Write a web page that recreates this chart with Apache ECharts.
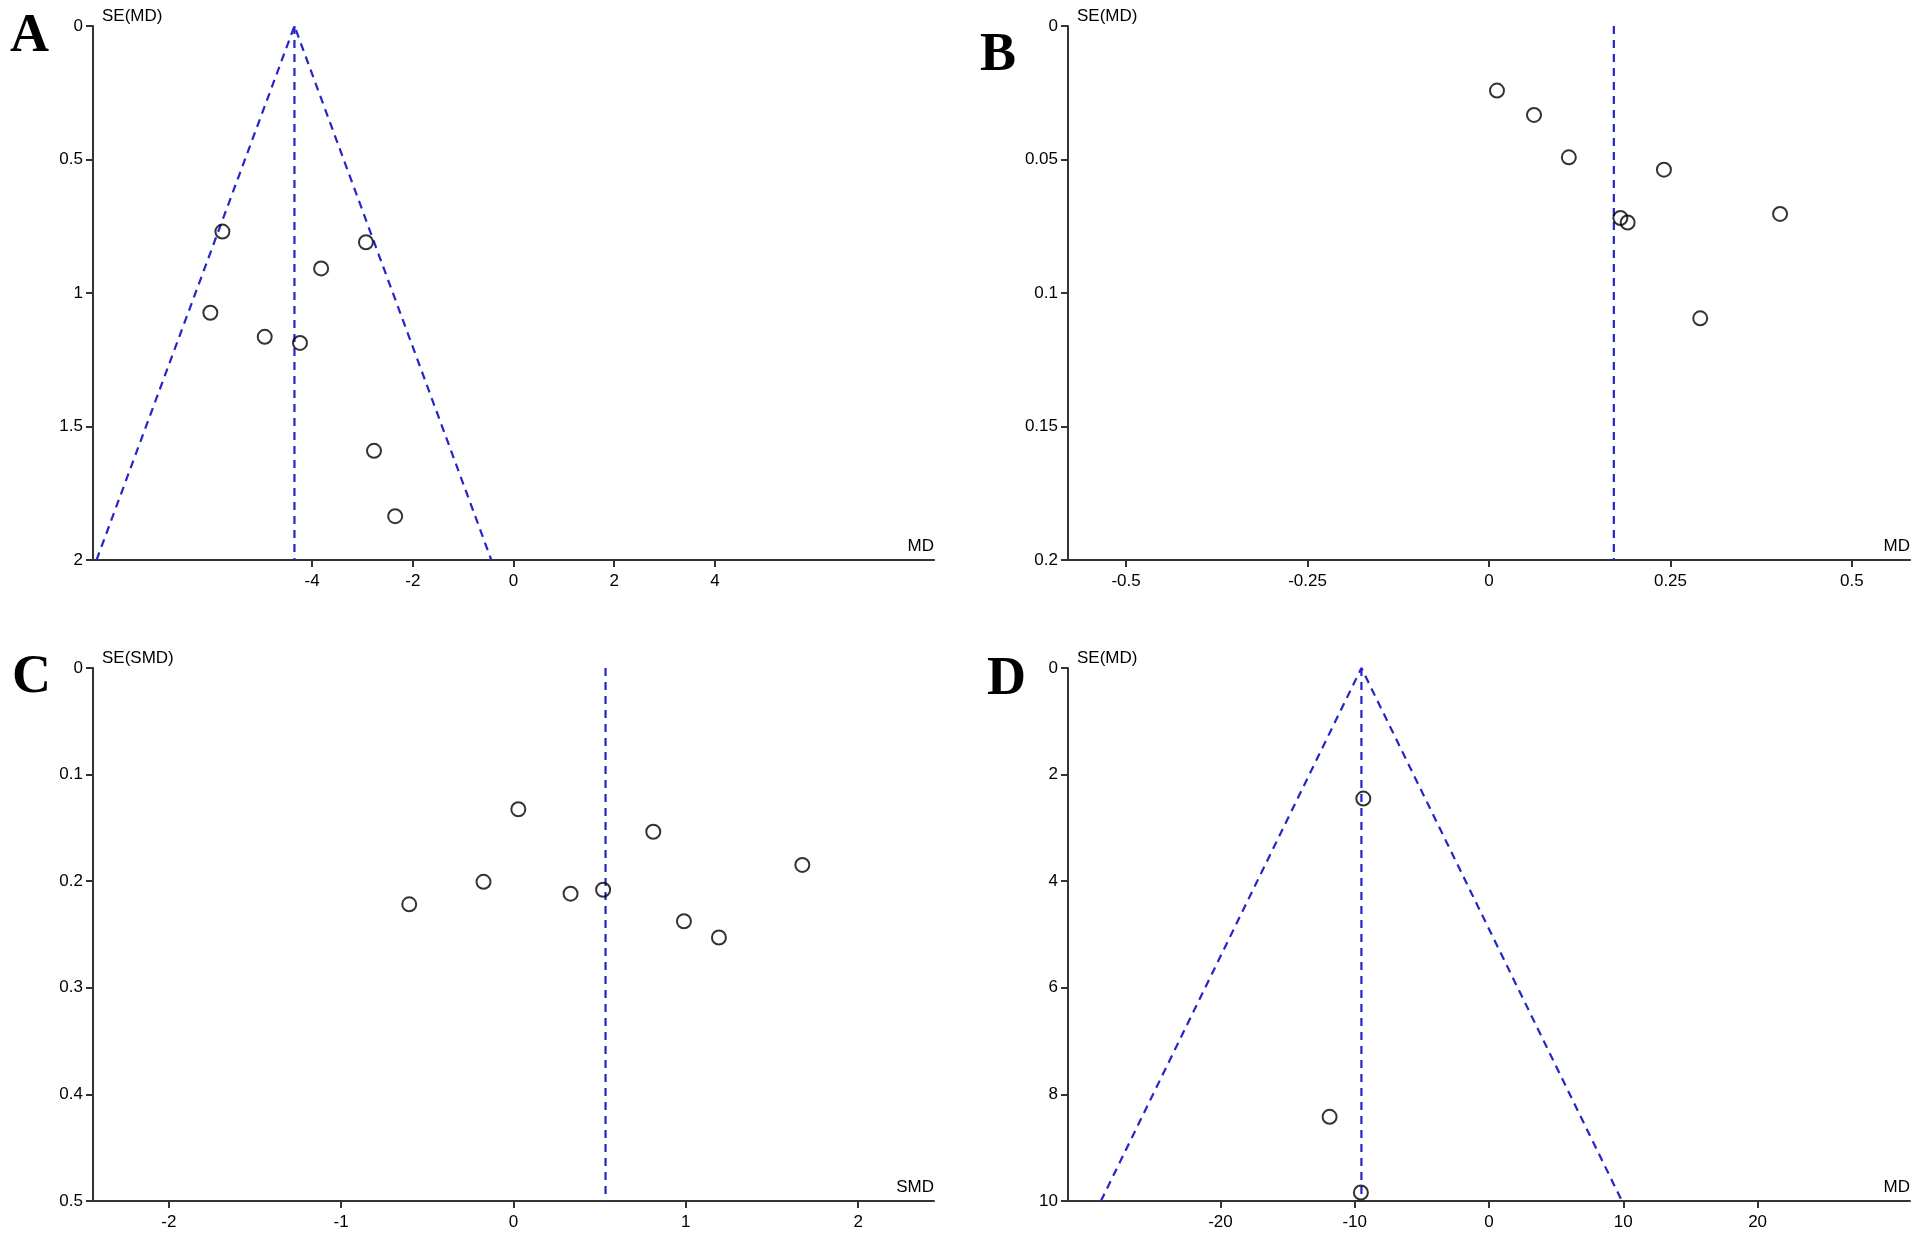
<!DOCTYPE html>
<html>
<head>
<meta charset="utf-8">
<script src="https://cdn.jsdelivr.net/npm/echarts@6/dist/echarts.min.js"></script>
<style>
  html, body { margin: 0; padding: 0; background: #fff; }
  #chart { width: 1918px; height: 1238px; }
</style>
</head>
<body>
<div id="chart"></div>
<script>
// Panel A: MD vs SE(MD)
var aMD = [-5.78, -2.93, -3.82, -6.02, -4.94, -4.24, -2.77, -2.35];
var aSE = [0.770, 0.810, 0.908, 1.074, 1.164, 1.187, 1.591, 1.836];
var aFunnelX = [-8.28, -4.35, -0.44];
var aFunnelY = [2, 0, 2];
var aPooled = -4.35;
var aTicks = [-4, -2, 0, 2, 4];

// Panel B
var bMD = [0.011, 0.062, 0.110, 0.241, 0.181, 0.191, 0.401, 0.291];
var bSE = [0.0242, 0.0333, 0.0492, 0.0538, 0.0719, 0.0736, 0.0704, 0.1095];
var bPooled = 0.172;
var bTicks = [-0.5, -0.25, 0, 0.25, 0.5];

// Panel C: SMD vs SE(SMD)
var cSMD = [-0.605, -0.174, 0.028, 0.331, 0.520, 0.811, 0.989, 1.192, 1.676];
var cSE = [0.2217, 0.2006, 0.1325, 0.2117, 0.2080, 0.1536, 0.2376, 0.2528, 0.1847];
var cPooled = 0.534;
var cTicks = [-2, -1, 0, 1, 2];

// Panel D
var dMD = [-9.36, -11.87, -9.54];
var dSE = [2.45, 8.42, 9.84];
var dFunnelX = [-28.9, -9.5, 9.9];
var dFunnelY = [10, 0, 10];
var dPooled = -9.5;
var dTicks = [-20, -10, 0, 10, 20];

var FONT = 'Liberation Sans, Arial, sans-serif';
var AXIS_COLOR = '#333';
var BLUE = '#2424c8';

function pairs(xs, ys) {
    return xs.map(function (x, i) { return [x, ys[i]]; });
}

function makeX(idx, min, max, ticks, name) {
    return {
        type: 'value', gridIndex: idx, min: min, max: max,
        name: name, nameLocation: 'end', nameGap: 0,
        nameTextStyle: { color: '#000', fontSize: 17, fontFamily: FONT, align: 'right', verticalAlign: 'bottom', padding: [0, 0, 5, 0] },
        axisLine: { show: true, onZero: false, lineStyle: { color: AXIS_COLOR, width: 2 } },
        axisTick: { show: true, length: 7, lineStyle: { color: AXIS_COLOR, width: 2 }, customValues: ticks },
        axisLabel: { color: '#000', fontSize: 17, fontFamily: FONT, margin: 13, customValues: ticks },
        splitLine: { show: false }
    };
}

function makeY(idx, max, interval, name) {
    return {
        type: 'value', gridIndex: idx, min: 0, max: max, interval: interval, inverse: true,
        name: name, nameLocation: 'start', nameGap: 1,
        nameTextStyle: { color: '#000', fontSize: 17, fontFamily: FONT, align: 'left', verticalAlign: 'bottom', padding: [0, 0, 0, 9] },
        axisLine: { show: true, onZero: false, lineStyle: { color: AXIS_COLOR, width: 2 } },
        axisTick: { show: true, length: 7, lineStyle: { color: AXIS_COLOR, width: 2 } },
        axisLabel: { color: '#000', fontSize: 17, fontFamily: FONT, margin: 10 },
        splitLine: { show: false }
    };
}

function scatter(idx, xs, ys) {
    return {
        type: 'scatter', xAxisIndex: idx, yAxisIndex: idx,
        symbol: 'circle', symbolSize: 14,
        itemStyle: { color: 'rgba(0,0,0,0)', borderColor: '#000', borderWidth: 2 },
        data: pairs(xs, ys), z: 3
    };
}

function dashed(idx, data) {
    return {
        type: 'line', xAxisIndex: idx, yAxisIndex: idx, symbol: 'none',
        lineStyle: { color: BLUE, width: 2.2, type: [8, 6] },
        data: data, z: 2
    };
}

var chart = echarts.init(document.getElementById('chart'));

var option = {
    animation: false,
    backgroundColor: '#fff',
    grid: [
        { left: 93, top: 26, width: 841, height: 534 },
        { left: 1068, top: 26, width: 842, height: 534 },
        { left: 93, top: 668, width: 841, height: 533 },
        { left: 1068, top: 668, width: 842, height: 533 }
    ],
    xAxis: [
        makeX(0, -8.35, 8.35, aTicks, 'MD'),
        makeX(1, -0.58, 0.58, bTicks, 'MD'),
        makeX(2, -2.44, 2.44, cTicks, 'SMD'),
        makeX(3, -31.35, 31.35, dTicks, 'MD')
    ],
    yAxis: [
        makeY(0, 2, 0.5, 'SE(MD)'),
        makeY(1, 0.2, 0.05, 'SE(MD)'),
        makeY(2, 0.5, 0.1, 'SE(SMD)'),
        makeY(3, 10, 2, 'SE(MD)')
    ],
    series: [
        dashed(0, pairs(aFunnelX, aFunnelY)),
        dashed(0, [[aPooled, 0], [aPooled, 2]]),
        scatter(0, aMD, aSE),
        dashed(1, [[bPooled, 0], [bPooled, 0.2]]),
        scatter(1, bMD, bSE),
        dashed(2, [[cPooled, 0], [cPooled, 0.5]]),
        scatter(2, cSMD, cSE),
        dashed(3, pairs(dFunnelX, dFunnelY)),
        dashed(3, [[dPooled, 0], [dPooled, 10]]),
        scatter(3, dMD, dSE)
    ],
    graphic: [
        { type: 'text', left: 10, top: 10, style: { text: 'A', font: 'bold 54px "Liberation Serif", serif', fill: '#000' } },
        { type: 'text', left: 980, top: 29, style: { text: 'B', font: 'bold 54px "Liberation Serif", serif', fill: '#000' } },
        { type: 'text', left: 12, top: 651, style: { text: 'C', font: 'bold 54px "Liberation Serif", serif', fill: '#000' } },
        { type: 'text', left: 987, top: 653, style: { text: 'D', font: 'bold 54px "Liberation Serif", serif', fill: '#000' } }
    ]
};

chart.setOption(option);
</script>
</body>
</html>
